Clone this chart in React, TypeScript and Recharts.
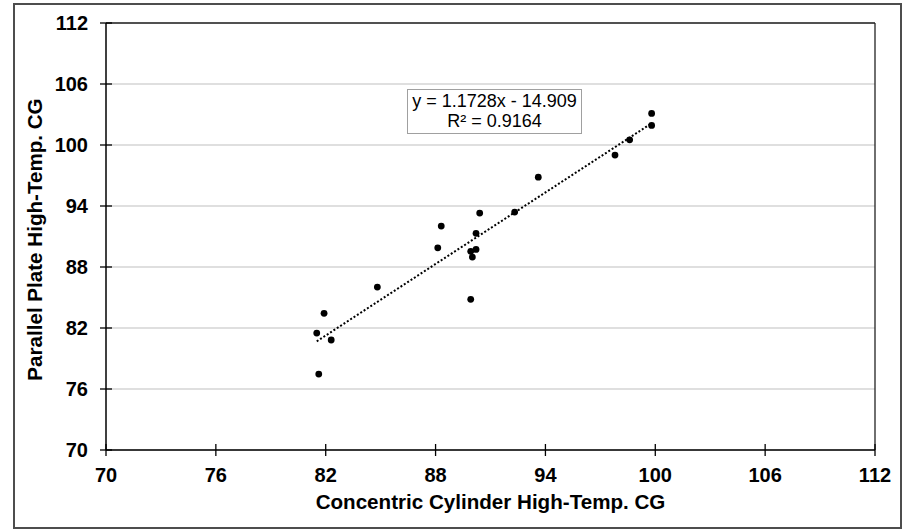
import React from 'react';
import { ScatterChart, Scatter, XAxis, YAxis, CartesianGrid, ReferenceLine } from 'recharts';

const concentricCG = [81.51, 81.91, 82.3, 81.62, 84.82, 88.12, 88.31, 89.92, 89.92, 90.01, 90.21, 90.21, 90.41, 92.32, 93.61, 97.8, 98.6, 99.8, 99.8];
const parallelCG = [81.5, 83.44, 80.82, 77.47, 86.03, 89.89, 92.03, 84.82, 89.54, 88.98, 89.73, 91.31, 93.3, 93.4, 96.84, 99.01, 100.51, 101.93, 103.11];
const xTicks = [70, 76, 82, 88, 94, 100, 106, 112];
const yTicks = [70, 76, 82, 88, 94, 100, 106, 112];
const slope = 1.1728;
const intercept = -14.909;
const rSquared = 0.9164;
const xTitle = 'Concentric Cylinder High-Temp. CG';
const yTitle = 'Parallel Plate High-Temp. CG';

const points = concentricCG.map((x, i) => ({ x, y: parallelCG[i] }));
const xMin = Math.min(...concentricCG);
const xMax = Math.max(...concentricCG);
const trendSegment = [
  { x: xMin, y: slope * xMin + intercept },
  { x: xMax, y: slope * xMax + intercept },
];

const FONT = '"Liberation Sans", Arial, sans-serif';
const TICK_SIZE = 6;
const TICK_MARGIN = 2;

const XTick = (props: any) => {
  const { x, y, payload } = props;
  const axisY = y - TICK_MARGIN - TICK_SIZE;
  return (
    <g>
      <line x1={x} x2={x} y1={axisY - 6} y2={axisY + 6} stroke="#000" strokeWidth={1.3} />
      <text x={x} y={axisY + 32} textAnchor="middle" fontFamily={FONT} fontWeight="bold" fontSize={20} fill="#000">
        {payload.value}
      </text>
    </g>
  );
};

const YTick = (props: any) => {
  const { x, y, payload } = props;
  const axisX = x + TICK_MARGIN + TICK_SIZE;
  return (
    <g>
      <line x1={axisX - 6} x2={axisX + 6} y1={y} y2={y} stroke="#000" strokeWidth={1.3} />
      <text x={axisX - 18} y={y + 7} textAnchor="end" fontFamily={FONT} fontWeight="bold" fontSize={20} fill="#000">
        {payload.value}
      </text>
    </g>
  );
};

const XTitle = (props: any) => {
  const vb = props.viewBox;
  return (
    <text x={vb.x + vb.width / 2} y={vb.y + 59} textAnchor="middle" fontFamily={FONT} fontWeight="bold" fontSize={20.6} fill="#000">
      {xTitle}
    </text>
  );
};

const YTitle = (props: any) => {
  const vb = props.viewBox;
  const cy = vb.y + vb.height / 2 + 3;
  return (
    <text transform={`translate(${vb.x + 35.5}, ${cy}) rotate(-90)`} textAnchor="middle" fontFamily={FONT} fontWeight="bold" fontSize={20.6} fill="#000">
      {yTitle}
    </text>
  );
};

const Dot = (props: any) => <circle cx={props.cx} cy={props.cy} r={3.4} fill="#000" />;

export default function App() {
  return (
    <div style={{ position: 'absolute', left: 0, top: 0, width: 915, height: 530, background: '#fff', fontFamily: FONT }}>
      <div
        style={{
          position: 'absolute',
          left: 13,
          top: 3,
          width: 889,
          height: 526,
          border: '2px solid #4d4d4d',
          boxSizing: 'border-box',
        }}
      />
      <div style={{ position: 'absolute', left: 0, top: 0 }}>
        <ScatterChart width={915} height={530} margin={{ top: 23, right: 40, bottom: 20, left: 6 }}>
          <CartesianGrid vertical={false} stroke="#c0c0c0" strokeWidth={1.2} />
          <XAxis
            type="number"
            dataKey="x"
            domain={[70, 112]}
            ticks={xTicks}
            interval={0}
            height={60}
            axisLine={{ stroke: '#000', strokeWidth: 1.5 }}
            tickLine={false}
            tickSize={TICK_SIZE}
            tickMargin={TICK_MARGIN}
            tick={<XTick />}
            label={{ content: <XTitle /> }}
            allowDataOverflow
          />
          <YAxis
            type="number"
            dataKey="y"
            domain={[70, 112]}
            ticks={yTicks}
            interval={0}
            width={100}
            axisLine={{ stroke: '#000', strokeWidth: 1.5 }}
            tickLine={false}
            tickSize={TICK_SIZE}
            tickMargin={TICK_MARGIN}
            tick={<YTick />}
            label={{ content: <YTitle /> }}
            allowDataOverflow
          />
          <ReferenceLine y={112} stroke="#222" strokeWidth={1.3} />
          <ReferenceLine x={112} stroke="#222" strokeWidth={1.3} />
          <ReferenceLine segment={trendSegment} stroke="#000" strokeWidth={2} strokeDasharray="2 2" ifOverflow="visible" />
          <Scatter data={points} fill="#000" shape={<Dot />} isAnimationActive={false} />
        </ScatterChart>
      </div>
      <div
        style={{
          position: 'absolute',
          left: 407,
          top: 89,
          width: 175,
          height: 45,
          border: '1px solid #a0a0a0',
          background: '#fff',
          boxSizing: 'border-box',
          textAlign: 'center',
          fontFamily: FONT,
          fontSize: 18,
          lineHeight: '20px',
          paddingTop: 1,
          color: '#000',
        }}
      >
        <div>y = {slope}x - {Math.abs(intercept)}</div>
        <div>R² = {rSquared}</div>
      </div>
    </div>
  );
}
